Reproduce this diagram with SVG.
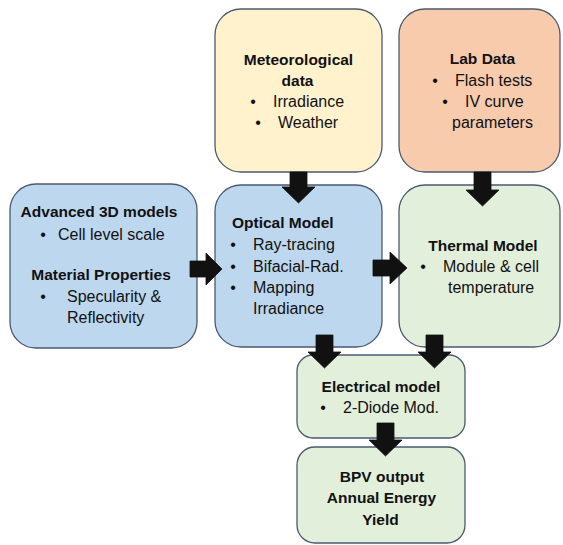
<svg xmlns="http://www.w3.org/2000/svg" width="563" height="545" viewBox="0 0 563 545">
  <style>
    .box { stroke: #4a5a70; stroke-width: 1.3; }
    .yellow { fill: #FFF2CC; }
    .peach { fill: #F8CBAD; }
    .blue { fill: #BDD7EE; }
    .green { fill: #E2EFDA; }
    text { font-family: "Liberation Sans", Arial, sans-serif; fill: #111; }
    .b { font-weight: bold; font-size: 15.5px; }
    .r { font-size: 16px; }
    .m { text-anchor: middle; }
    .arrow { fill: #111; stroke: #111; stroke-width: 0.8; stroke-linejoin: miter; }
  </style>
  <rect width="563" height="545" fill="#ffffff"/>

  <g id="meteorological">
    <rect class="box yellow" x="215" y="9" width="167" height="163" rx="26"/>
    <text class="b m" x="298.5" y="65">Meteorological</text>
    <text class="b m" x="297.5" y="86">data</text>
    <text class="r m" x="253" y="107">•</text>
    <text class="r" x="273" y="107">Irradiance</text>
    <text class="r m" x="258" y="128">•</text>
    <text class="r" x="278" y="128">Weather</text>
  </g>

  <g id="labdata">
    <rect class="box peach" x="399" y="9" width="161" height="163" rx="26"/>
    <text class="b m" x="482.5" y="64">Lab Data</text>
    <text class="r m" x="435" y="86">•</text>
    <text class="r" x="455" y="86">Flash tests</text>
    <text class="r m" x="445" y="107">•</text>
    <text class="r" x="465" y="107">IV curve</text>
    <text class="r" x="452" y="128">parameters</text>
  </g>

  <g id="advanced">
    <rect class="box blue" x="10" y="184" width="187" height="164" rx="26"/>
    <text class="b m" x="99" y="217">Advanced 3D models</text>
    <text class="r m" x="43" y="240">•</text>
    <text class="r" x="58" y="240">Cell level scale</text>
    <text class="b m" x="101" y="280">Material Properties</text>
    <text class="r m" x="43" y="302">•</text>
    <text class="r" x="67" y="302">Specularity &amp;</text>
    <text class="r" x="67" y="323">Reflectivity</text>
  </g>

  <g id="optical">
    <rect class="box blue" x="215" y="185" width="167" height="162" rx="26"/>
    <text class="b" x="232" y="228">Optical Model</text>
    <text class="r m" x="233" y="250">•</text>
    <text class="r" x="253" y="250">Ray-tracing</text>
    <text class="r m" x="233" y="272">•</text>
    <text class="r" x="253" y="272">Bifacial-Rad.</text>
    <text class="r m" x="233" y="293">•</text>
    <text class="r" x="253" y="293">Mapping</text>
    <text class="r" x="253" y="314">Irradiance</text>
  </g>

  <g id="thermal">
    <rect class="box green" x="399" y="185" width="161" height="162" rx="26"/>
    <text class="b m" x="483" y="251">Thermal Model</text>
    <text class="r m" x="423" y="272">•</text>
    <text class="r" x="443" y="272">Module &amp; cell</text>
    <text class="r" x="448" y="293">temperature</text>
  </g>

  <g id="electrical">
    <rect class="box green" x="297" y="355" width="168" height="83" rx="16"/>
    <text class="b m" x="381" y="392">Electrical model</text>
    <text class="r m" x="323" y="413">•</text>
    <text class="r" x="343" y="413">2-Diode Mod.</text>
  </g>

  <g id="bpv">
    <rect class="box green" x="297" y="447" width="168" height="96" rx="18"/>
    <text class="b m" x="382" y="482">BPV output</text>
    <text class="b m" x="381.5" y="503">Annual Energy</text>
    <text class="b m" x="380.5" y="525">Yield</text>
  </g>

  <g id="connectors">
    <path class="arrow" d="M290,172 H307 V187 H315 L298.5,203 L282,187 H290 Z"/>
    <path class="arrow" d="M474,172 H491 V190 H499 L482.5,206 L466,190 H474 Z"/>
    <path class="arrow" d="M190,261 H206 V253 L222,269 L206,285 V277 H190 Z"/>
    <path class="arrow" d="M373,260 H390 V252 L407,268 L390,284 V276 H373 Z"/>
    <path class="arrow" d="M316,335 H333 V352 H341 L324.5,368 L308,352 H316 Z"/>
    <path class="arrow" d="M426,335 H443 V352 H451 L434.5,368 L418,352 H426 Z"/>
    <path class="arrow" d="M377,423 H394 V440 H402 L385.5,456 L369,440 H377 Z"/>
  </g>
</svg>
